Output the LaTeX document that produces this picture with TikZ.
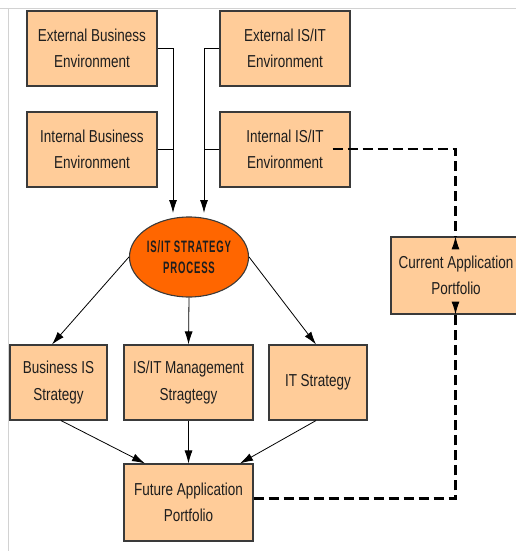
\documentclass[tikz,border=0pt]{standalone}
\usepackage{fontspec}
\setmainfont{Liberation Sans}[FakeStretch=0.78]
\newfontfamily\procfont{Liberation Sans}[FakeStretch=0.58, LetterSpace=5]
\usetikzlibrary{shapes.geometric,arrows.meta}
\definecolor{peach}{HTML}{FFCC99}
\definecolor{procorange}{HTML}{FF6600}
\definecolor{boxline}{HTML}{3A3A3A}
\definecolor{txt}{HTML}{1E1E1E}
\tikzset{
	box/.style={draw=boxline, line width=1.1pt, fill=peach, text=txt, align=center, inner sep=0pt,
		minimum width=130pt, minimum height=75pt, font=\fontsize{17.3}{26.5}\selectfont},
	arr/.style={-{Latex[length=13pt,width=8pt]}, line width=0.8pt},
	dashlink/.style={dash pattern=on 10pt off 5pt, line width=2.6pt}
}
\begin{document}
\begin{tikzpicture}[x=1pt,y=-1pt]
				\clip (0,0) rectangle (516,551);
				%	khung
				\draw[gray!35, line width=1pt] (0,8.5) -- (516,8.5) (8.5,8.5) -- (8.5,551);
				%	moi truong
				\node[box] (extBus) at (92,48.5) {External Business\\Environment};
				\node[box] (intBus) at (92,149.5) {Internal Business\\Environment};
				\node[box] (extIS) at (285,48.5) {External IS/IT\\Environment};
				\node[box] (intIS) at (285,149.5) {Internal IS/IT\\Environment};
				%	qua trinh
				\node[ellipse, draw=boxline, line width=1.1pt, fill=procorange, text=txt, inner sep=0pt,
					minimum width=104pt, minimum height=80pt, align=center,
					font=\procfont\bfseries\fontsize{16.5}{20.5}\selectfont] (proc) at (189,257) {IS/IT STRATEGY\\PROCESS};
				%	chien luoc
				\node[box, minimum width=97pt] (bisStrat) at (58.5,382.5) {Business IS\\Strategy};
				\node[box, minimum width=129pt] (mgmtStrat) at (188.5,382.5) {IS/IT Management\\Stragtegy};
				\node[box, minimum width=98pt] (itStrat) at (318,382.5) {IT Strategy};
				%	danh muc
				\node[box, minimum width=129pt, minimum height=77pt] (futApp) at (188.5,502.5) {Future Application\\Portfolio};
				\node[box, minimum height=77pt] (curApp) at (456,275.5) {Current Application\\Portfolio};
				
				\coordinate (joinL) at (173,213);
				\coordinate (joinR) at (204,213);
				\draw[arr] (extBus.east) -| (joinL);
				\draw[line width=0.8pt] (intBus.east) -- (intBus.east -| joinL);
				\draw[arr] (extIS.west) -| (joinR);
				\draw[line width=0.8pt] (intIS.west) -- (intIS.west -| joinR);
				
				\draw[arr] (proc.west) -- ([xshift=-6.5pt]bisStrat.north);
				\draw[arr] (proc.south) -- (mgmtStrat.north);
				\draw[arr] (proc.east) -- ([xshift=-2pt]itStrat.north);
				
				\draw[arr] ([xshift=2.5pt]bisStrat.south) -- ([xshift=-43.5pt]futApp.north);
				\draw[arr] (mgmtStrat.south) -- (futApp.north);
				\draw[arr] ([xshift=-2pt]itStrat.south) -- ([xshift=51.5pt]futApp.north);
				
				\draw[dashlink] ([xshift=-18pt,yshift=0.5pt]intIS.east) -| ([xshift=-0.5pt]curApp.north);
				\draw[-{Latex[length=13pt,width=8pt]}, line width=1pt] ([xshift=-0.5pt,yshift=-12pt]curApp.north) -- ([xshift=-0.5pt]curApp.north);
				\draw[dashlink] ([yshift=4pt]futApp.east) -| ([xshift=-0.5pt]curApp.south);
				\draw[-{Latex[length=13pt,width=8pt]}, line width=1pt] ([xshift=-0.5pt,yshift=12pt]curApp.south) -- ([xshift=-0.5pt]curApp.south);
\end{tikzpicture}
\end{document}
